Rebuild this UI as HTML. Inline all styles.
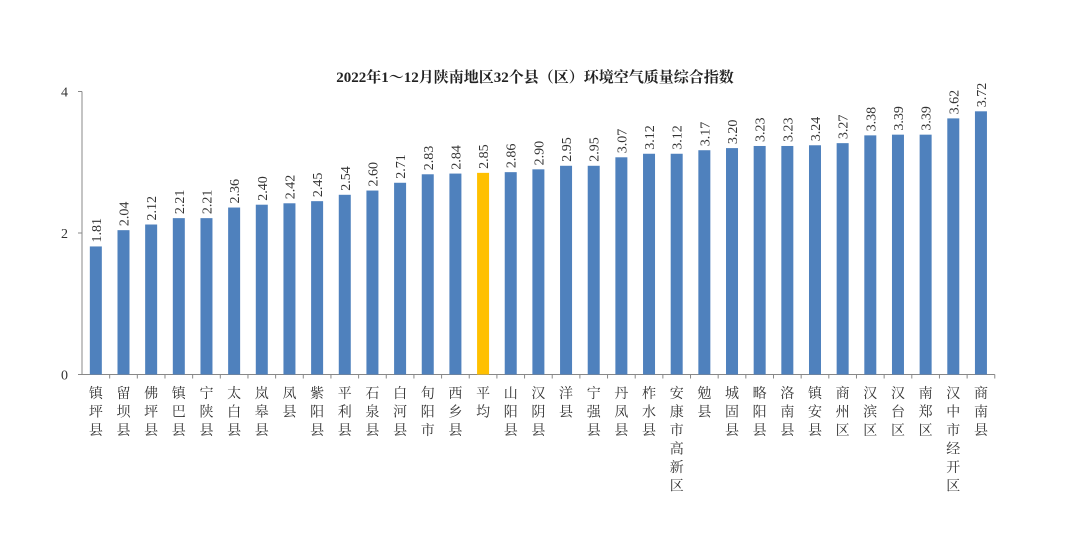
<!DOCTYPE html>
<html><head><meta charset="utf-8"><style>
body{margin:0;background:#fff;}
svg{display:block;font-family:"Liberation Serif","Noto Serif CJK SC",serif;}
</style></head><body>
<svg id="c" width="1069" height="546" xmlns="http://www.w3.org/2000/svg">
<text x="535" y="82" text-anchor="middle" font-size="15" font-weight="bold" fill="#222">2022年1～12月陕南地区32个县（区）环境空气质量综合指数</text>
<g id="g"></g>
</svg>
<script>
const categories=["镇坪县","留坝县","佛坪县","镇巴县","宁陕县","太白县","岚皋县","凤县","紫阳县","平利县","石泉县","白河县","旬阳市","西乡县","平均","山阳县","汉阴县","洋县","宁强县","丹凤县","柞水县","安康市高新区","勉县","城固县","略阳县","洛南县","镇安县","商州区","汉滨区","汉台区","南郑区","汉中市经开区","商南县"];
const values=[1.81,2.04,2.12,2.21,2.21,2.36,2.40,2.42,2.45,2.54,2.60,2.71,2.83,2.84,2.85,2.86,2.90,2.95,2.95,3.07,3.12,3.12,3.17,3.20,3.23,3.23,3.24,3.27,3.38,3.39,3.39,3.62,3.72];
const yTicks=[0,2,4];
const NS="http://www.w3.org/2000/svg";
const g=document.getElementById('g');
const x0=82,step=27.66,y0=374.5,k=70.75;
const xC=i=>x0+step*(i+0.5);
const yS=v=>y0-v*k;
function mk(t,a){const e=document.createElementNS(NS,t);for(const n in a)e.setAttribute(n,a[n]);g.appendChild(e);return e;}
const ax=mk('line',{x1:x0,y1:yS(4),x2:x0,y2:y0,stroke:'#888'});


const xl=mk('line',{x1:x0,y1:y0,x2:x0+step*categories.length,y2:y0,stroke:'#888'});


yTicks.forEach(v=>{
 mk('line',{x1:x0-4,y1:yS(v),x2:x0,y2:yS(v),stroke:'#888'});
 const t=mk('text',{x:x0-14,y:yS(v)+5,'font-size':14,'text-anchor':'end',fill:'#333'});
 t.textContent=v;
 
 
});
categories.forEach((c,i)=>{
 const xc=xC(i),v=values[i];
 mk('line',{x1:x0+step*(i+1),y1:y0,x2:x0+step*(i+1),y2:y0+4,stroke:'#888'});
 const r=mk('rect',{x:xc-6,y:yS(v),width:12,height:v*k,fill:c==='平均'?'#ffc000':'#4f81bd'});
 
 
 const t=mk('text',{x:0,y:0,'font-size':14,fill:'#333',transform:`translate(${xc+5},${yS(v)-4}) rotate(-90)`});
 t.textContent=v.toFixed(2);
 
 
 [...c].forEach((ch,j)=>{
  const l=mk('text',{x:xc,y:398+j*18.5,'font-size':14,'text-anchor':'middle',fill:'#333'});
  l.textContent=ch;
  
  
 });
});
</script>
</body></html>
